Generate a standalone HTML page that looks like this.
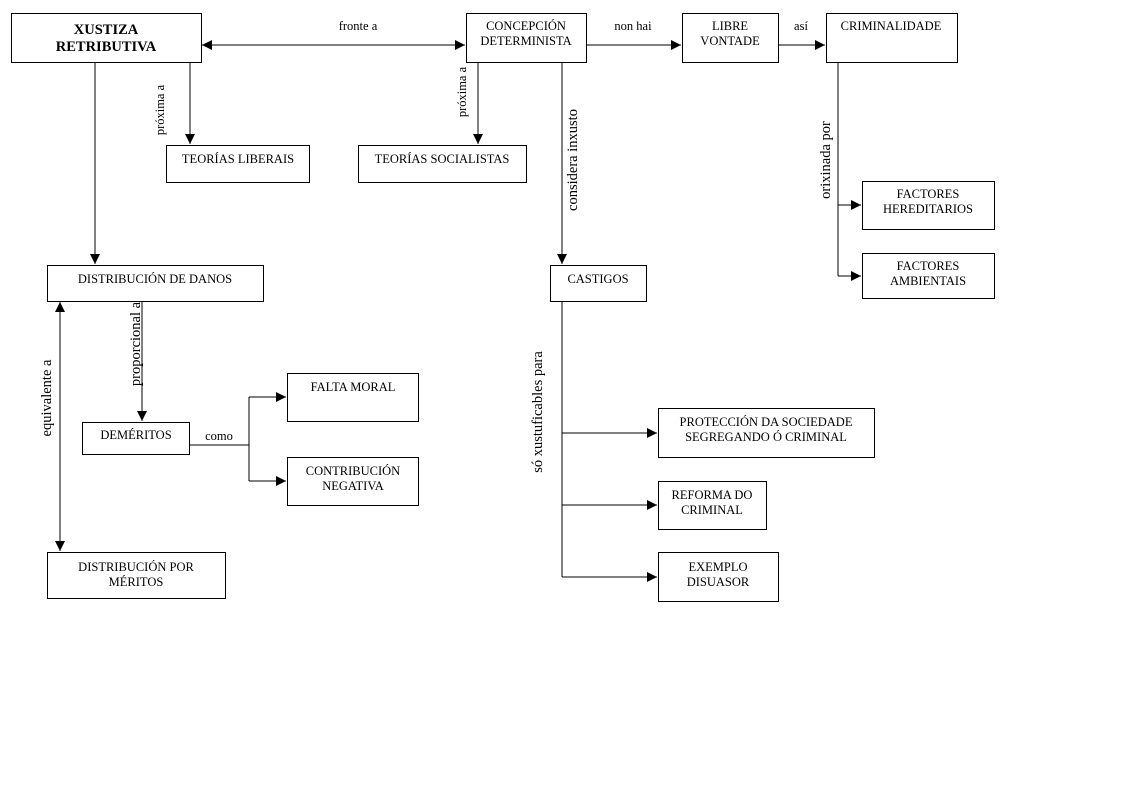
<!DOCTYPE html>
<html><head><meta charset="utf-8"><style>
html,body{margin:0;padding:0;background:#fff;}
svg{display:block;}
text{font-family:"Liberation Serif",serif;font-size:12.5px;fill:#000;}
.b{font-weight:bold;font-size:14.5px;}
rect{fill:#fff;stroke:#000;stroke-width:1;}
line,polyline{stroke:#000;stroke-width:1;fill:none;}
</style></head><body>
<svg width="1122" height="794" viewBox="0 0 1122 794" xmlns="http://www.w3.org/2000/svg">
<defs>
<marker id="a" markerWidth="10" markerHeight="10" refX="10" refY="5" orient="auto" markerUnits="userSpaceOnUse">
<path d="M0,0 L10,5 L0,10 z" fill="#000"/></marker>
<marker id="s" markerWidth="10" markerHeight="10" refX="0" refY="5" orient="auto" markerUnits="userSpaceOnUse">
<path d="M10,0 L0,5 L10,10 z" fill="#000"/></marker>
</defs>

<!-- connectors -->
<line x1="202" y1="45" x2="465" y2="45" marker-start="url(#s)" marker-end="url(#a)"/>
<line x1="586" y1="45" x2="681" y2="45" marker-end="url(#a)"/>
<line x1="778" y1="45" x2="825" y2="45" marker-end="url(#a)"/>
<line x1="190" y1="62" x2="190" y2="144" marker-end="url(#a)"/>
<line x1="95" y1="62" x2="95" y2="264" marker-end="url(#a)"/>
<line x1="478" y1="62" x2="478" y2="144" marker-end="url(#a)"/>
<line x1="562" y1="62" x2="562" y2="264" marker-end="url(#a)"/>
<polyline points="838,62 838,276"/>
<line x1="838" y1="205" x2="861" y2="205" marker-end="url(#a)"/>
<line x1="838" y1="276" x2="861" y2="276" marker-end="url(#a)"/>
<line x1="142" y1="301" x2="142" y2="421" marker-end="url(#a)"/>
<line x1="60" y1="302" x2="60" y2="551" marker-start="url(#s)" marker-end="url(#a)"/>
<polyline points="189,445 249,445"/>
<polyline points="249,397 249,481"/>
<line x1="249" y1="397" x2="286" y2="397" marker-end="url(#a)"/>
<line x1="249" y1="481" x2="286" y2="481" marker-end="url(#a)"/>
<polyline points="562,301 562,577"/>
<line x1="562" y1="433" x2="657" y2="433" marker-end="url(#a)"/>
<line x1="562" y1="505" x2="657" y2="505" marker-end="url(#a)"/>
<line x1="562" y1="577" x2="657" y2="577" marker-end="url(#a)"/>

<!-- boxes -->
<rect x="11.5" y="13.5" width="190" height="49"/>
<text class="b" x="106" y="34" text-anchor="middle">XUSTIZA</text>
<text class="b" x="106" y="51" text-anchor="middle">RETRIBUTIVA</text>

<rect x="466.5" y="13.5" width="120" height="49"/>
<text x="526" y="30" text-anchor="middle">CONCEPCIÓN</text>
<text x="526" y="45" text-anchor="middle">DETERMINISTA</text>

<rect x="682.5" y="13.5" width="96" height="49"/>
<text x="730" y="30" text-anchor="middle">LIBRE</text>
<text x="730" y="45" text-anchor="middle">VONTADE</text>

<rect x="826.5" y="13.5" width="131" height="49"/>
<text x="891" y="30" text-anchor="middle">CRIMINALIDADE</text>

<rect x="166.5" y="145.5" width="143" height="37"/>
<text x="238" y="163" text-anchor="middle">TEORÍAS LIBERAIS</text>

<rect x="358.5" y="145.5" width="168" height="37"/>
<text x="442" y="163" text-anchor="middle">TEORÍAS SOCIALISTAS</text>

<rect x="862.5" y="181.5" width="132" height="48"/>
<text x="928" y="198" text-anchor="middle">FACTORES</text>
<text x="928" y="213" text-anchor="middle">HEREDITARIOS</text>

<rect x="862.5" y="253.5" width="132" height="45"/>
<text x="928" y="270" text-anchor="middle">FACTORES</text>
<text x="928" y="285" text-anchor="middle">AMBIENTAIS</text>

<rect x="47.5" y="265.5" width="216" height="36"/>
<text x="155" y="283" text-anchor="middle">DISTRIBUCIÓN DE DANOS</text>

<rect x="550.5" y="265.5" width="96" height="36"/>
<text x="598" y="283" text-anchor="middle">CASTIGOS</text>

<rect x="287.5" y="373.5" width="131" height="48"/>
<text x="353" y="391" text-anchor="middle">FALTA MORAL</text>

<rect x="82.5" y="422.5" width="107" height="32"/>
<text x="136" y="439" text-anchor="middle">DEMÉRITOS</text>

<rect x="287.5" y="457.5" width="131" height="48"/>
<text x="353" y="475" text-anchor="middle">CONTRIBUCIÓN</text>
<text x="353" y="490" text-anchor="middle">NEGATIVA</text>

<rect x="658.5" y="408.5" width="216" height="49"/>
<text x="766" y="426" text-anchor="middle">PROTECCIÓN DA SOCIEDADE</text>
<text x="766" y="441" text-anchor="middle">SEGREGANDO Ó CRIMINAL</text>

<rect x="658.5" y="481.5" width="108" height="48"/>
<text x="712" y="499" text-anchor="middle">REFORMA DO</text>
<text x="712" y="514" text-anchor="middle">CRIMINAL</text>

<rect x="47.5" y="552.5" width="178" height="46"/>
<text x="136" y="571" text-anchor="middle">DISTRIBUCIÓN POR</text>
<text x="136" y="586" text-anchor="middle">MÉRITOS</text>

<rect x="658.5" y="552.5" width="120" height="49"/>
<text x="718" y="571" text-anchor="middle">EXEMPLO</text>
<text x="718" y="586" text-anchor="middle">DISUASOR</text>

<!-- labels -->
<text x="358" y="30" text-anchor="middle">fronte a</text>
<text x="633" y="30" text-anchor="middle">non hai</text>
<text x="801" y="30" text-anchor="middle">así</text>
<text x="219" y="440" text-anchor="middle">como</text>
<text transform="translate(164,110) rotate(-90)" text-anchor="middle">próxima a</text>
<text transform="translate(466,92) rotate(-90)" text-anchor="middle">próxima a</text>
<text transform="translate(577,160) rotate(-90)" text-anchor="middle" style="font-size:14.5px">considera inxusto</text>
<text transform="translate(830,160) rotate(-90)" text-anchor="middle" style="font-size:14.5px">orixinada  por</text>
<text transform="translate(140,344) rotate(-90)" text-anchor="middle" style="font-size:14.5px">proporcional a</text>
<text transform="translate(51,398) rotate(-90)" text-anchor="middle" style="font-size:14.5px">equivalente a</text>
<text transform="translate(542,412) rotate(-90)" text-anchor="middle" style="font-size:14.5px">só xustuficables para</text>
</svg>
</body></html>
